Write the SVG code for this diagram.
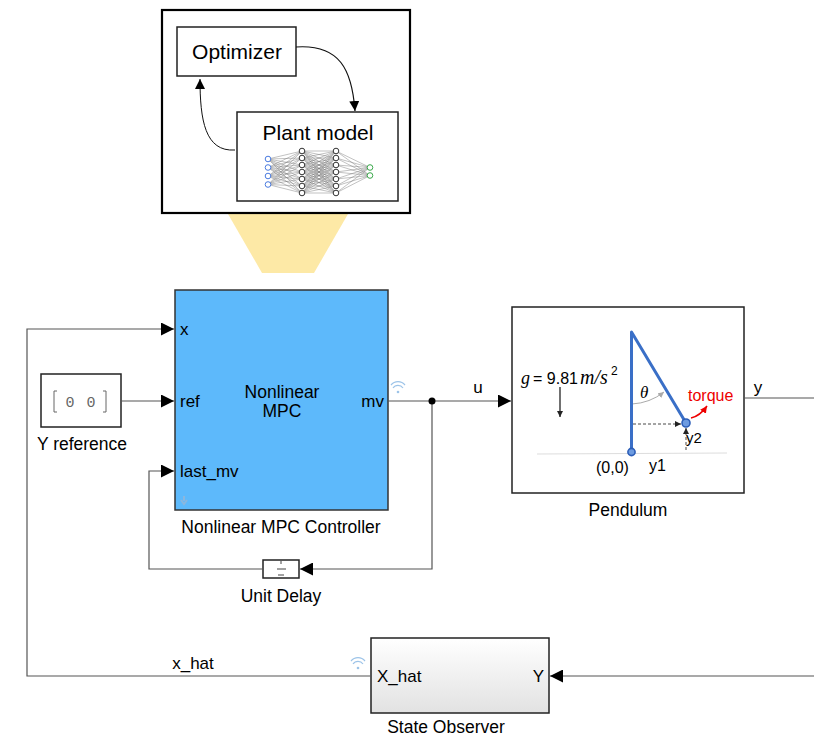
<svg xmlns="http://www.w3.org/2000/svg" width="814" height="736" viewBox="0 0 814 736">
  <defs>
    <marker id="arr" viewBox="0 0 10 10" refX="10" refY="5" markerWidth="10" markerHeight="10" markerUnits="userSpaceOnUse" orient="auto">
      <path d="M0,0 L10,5 L0,10 z" fill="#000"/>
    </marker>
    <marker id="arrBig" viewBox="0 0 12 12" refX="12" refY="6" markerWidth="13" markerHeight="13" markerUnits="userSpaceOnUse" orient="auto">
      <path d="M0,0 L12,6 L0,12 z" fill="#000"/>
    </marker>
    <marker id="arrSm" viewBox="0 0 10 10" refX="10" refY="5" markerWidth="6" markerHeight="6" markerUnits="userSpaceOnUse" orient="auto">
      <path d="M0,0 L10,5 L0,10 z" fill="#222"/>
    </marker>
    <marker id="arrGray" viewBox="0 0 10 10" refX="10" refY="5" markerWidth="6" markerHeight="6" markerUnits="userSpaceOnUse" orient="auto">
      <path d="M0,0 L10,5 L0,10 z" fill="#aaa"/>
    </marker>
    <marker id="arrRed" viewBox="0 0 10 10" refX="10" refY="5" markerWidth="7" markerHeight="7" markerUnits="userSpaceOnUse" orient="auto">
      <path d="M0,0 L10,5 L0,10 z" fill="#e00"/>
    </marker>
    <linearGradient id="obsGrad" x1="0" y1="0" x2="0" y2="1">
      <stop offset="0" stop-color="#ffffff"/>
      <stop offset="1" stop-color="#e2e2e2"/>
    </linearGradient>
  </defs>
  <style>
    text { font-family: "Liberation Sans", Arial, sans-serif; fill: #000; }
    .blk { fill: #fff; stroke: #222; stroke-width: 1.5; }
    .wire { fill: none; stroke: #555; stroke-width: 1.2; }
    .port { font-size: 17px; }
    .lbl { font-size: 17.5px; text-anchor: middle; }
    .math { font-family: "Liberation Serif", serif; font-style: italic; }
    .nn { stroke: #777; stroke-width: 0.45; }
    .wifi { fill: none; stroke: #9cc3e8; stroke-width: 1.2; }
  </style>

  <!-- Optimizer / plant model inset -->
  <polygon points="228,214 348,214 314,273 262,273" fill="#fde9a6"/>
  <g id="inset">
    <rect x="162" y="10" width="248" height="203" fill="#fff" stroke="#000" stroke-width="2.2"/>
  </g>
  <g id="optimizer">
    <rect x="177" y="27" width="119" height="49" class="blk" stroke="#111"/>
    <text x="237" y="59" font-size="21" text-anchor="middle">Optimizer</text>
  </g>
  <g id="plant-model">
    <rect x="237" y="112" width="161" height="89" class="blk" stroke="#111"/>
    <text x="318" y="140" font-size="21" text-anchor="middle">Plant model</text>
    <!-- network weights -->
    <g class="nn">
      <path d="M268,159 L302,151 M268,159 L302,158 M268,159 L302,165 M268,159 L302,172 M268,159 L302,179 M268,159 L302,186 M268,159 L302,193
               M268,167.5 L302,151 M268,167.5 L302,158 M268,167.5 L302,165 M268,167.5 L302,172 M268,167.5 L302,179 M268,167.5 L302,186 M268,167.5 L302,193
               M268,176 L302,151 M268,176 L302,158 M268,176 L302,165 M268,176 L302,172 M268,176 L302,179 M268,176 L302,186 M268,176 L302,193
               M268,184.5 L302,151 M268,184.5 L302,158 M268,184.5 L302,165 M268,184.5 L302,172 M268,184.5 L302,179 M268,184.5 L302,186 M268,184.5 L302,193"/>
      <path d="M302,151 L336,151 M302,151 L336,158 M302,151 L336,165 M302,151 L336,172 M302,151 L336,179 M302,151 L336,186 M302,151 L336,193
               M302,158 L336,151 M302,158 L336,158 M302,158 L336,165 M302,158 L336,172 M302,158 L336,179 M302,158 L336,186 M302,158 L336,193
               M302,165 L336,151 M302,165 L336,158 M302,165 L336,165 M302,165 L336,172 M302,165 L336,179 M302,165 L336,186 M302,165 L336,193
               M302,172 L336,151 M302,172 L336,158 M302,172 L336,165 M302,172 L336,172 M302,172 L336,179 M302,172 L336,186 M302,172 L336,193
               M302,179 L336,151 M302,179 L336,158 M302,179 L336,165 M302,179 L336,172 M302,179 L336,179 M302,179 L336,186 M302,179 L336,193
               M302,186 L336,151 M302,186 L336,158 M302,186 L336,165 M302,186 L336,172 M302,186 L336,179 M302,186 L336,186 M302,186 L336,193
               M302,193 L336,151 M302,193 L336,158 M302,193 L336,165 M302,193 L336,172 M302,193 L336,179 M302,193 L336,186 M302,193 L336,193"/>
      <path d="M336,151 L370,167.5 M336,158 L370,167.5 M336,165 L370,167.5 M336,172 L370,167.5 M336,179 L370,167.5 M336,186 L370,167.5 M336,193 L370,167.5
               M336,151 L370,175.5 M336,158 L370,175.5 M336,165 L370,175.5 M336,172 L370,175.5 M336,179 L370,175.5 M336,186 L370,175.5 M336,193 L370,175.5"/>
    </g>
    <g fill="#fff" stroke-width="1">
      <g stroke="#4a7be0">
        <circle cx="268" cy="159" r="2.8"/><circle cx="268" cy="167.5" r="2.8"/><circle cx="268" cy="176" r="2.8"/><circle cx="268" cy="184.5" r="2.8"/>
      </g>
      <g stroke="#333">
        <circle cx="302" cy="151" r="2.8"/><circle cx="302" cy="158" r="2.8"/><circle cx="302" cy="165" r="2.8"/><circle cx="302" cy="172" r="2.8"/><circle cx="302" cy="179" r="2.8"/><circle cx="302" cy="186" r="2.8"/><circle cx="302" cy="193" r="2.8"/>
        <circle cx="336" cy="151" r="2.8"/><circle cx="336" cy="158" r="2.8"/><circle cx="336" cy="165" r="2.8"/><circle cx="336" cy="172" r="2.8"/><circle cx="336" cy="179" r="2.8"/><circle cx="336" cy="186" r="2.8"/><circle cx="336" cy="193" r="2.8"/>
      </g>
      <g stroke="#3aa84a">
        <circle cx="370" cy="167.5" r="2.8"/><circle cx="370" cy="175.5" r="2.8"/>
      </g>
    </g>
  </g>

  <!-- Nonlinear MPC controller -->
  <g id="mpc">
    <rect x="175" y="290" width="213" height="220" fill="#5db9fb" stroke="#333" stroke-width="1.5"/>
    <text x="282" y="398" font-size="17.5" text-anchor="middle">Nonlinear</text>
    <text x="282" y="417" font-size="17.5" text-anchor="middle">MPC</text>
    <text x="180" y="335" class="port">x</text>
    <text x="180" y="407" class="port">ref</text>
    <text x="180" y="477" class="port">last_mv</text>
    <text x="384" y="407" class="port" text-anchor="end">mv</text>
    <path d="M184,496 L184,501 M181,500 L184,504 L187,500" fill="none" stroke="#8ab7de" stroke-width="2"/>
    <text x="281" y="533" class="lbl">Nonlinear MPC Controller</text>
  </g>

  <!-- Y reference constant -->
  <g id="y-reference">
    <rect x="41" y="374" width="80" height="53" class="blk"/>
    <path d="M57,391 L54,391 L54,412 L57,412 M103,391 L106,391 L106,412 L103,412" fill="none" stroke="#666" stroke-width="1"/>
    <text x="70" y="407" font-size="15" fill="#666" text-anchor="middle" style="font-family:'Liberation Mono',monospace;fill:#666">0</text>
    <text x="91" y="407" font-size="15" fill="#666" text-anchor="middle" style="font-family:'Liberation Mono',monospace;fill:#666">0</text>
    <text x="82" y="450" class="lbl">Y reference</text>
  </g>

  <!-- Unit delay -->
  <g id="unit-delay">
    <rect x="263" y="560" width="36" height="18" class="blk"/>
    <line x1="277" y1="569" x2="286" y2="569" stroke="#444" stroke-width="1"/>
    <line x1="281" y1="561" x2="281" y2="564" stroke="#444" stroke-width="1"/>
    <line x1="278" y1="575" x2="284" y2="575" stroke="#444" stroke-width="1"/>
    <text x="281" y="602" class="lbl">Unit Delay</text>
  </g>

  <!-- Pendulum -->
  <g id="pendulum">
    <rect x="512" y="307" width="232" height="186" fill="#fff" stroke="#222" stroke-width="1.5"/>
    <line x1="537" y1="454" x2="727" y2="453" stroke="#ddd" stroke-width="1.2"/>
    <text x="521" y="384" font-size="18" class="math">g</text>
    <text x="533" y="384" font-size="16">= 9.81</text>
    <text x="580" y="384" font-size="20" class="math">m/s</text>
    <text x="611" y="375" font-size="12">2</text>
    <line x1="560" y1="387" x2="560" y2="417" stroke="#111" stroke-width="1.2" marker-end="url(#arrSm)"/>
    <path d="M632,404 Q650,403 664,392" fill="none" stroke="#aaa" stroke-width="1" marker-end="url(#arrGray)"/>
    <text x="640" y="398" font-size="17" class="math">θ</text>
    <line x1="633" y1="424" x2="681" y2="424" stroke="#333" stroke-width="0.9" stroke-dasharray="3,2" marker-end="url(#arrSm)"/>
    <line x1="686" y1="450" x2="686" y2="428" stroke="#333" stroke-width="0.9" stroke-dasharray="3,2" marker-end="url(#arrSm)"/>
    <path d="M631.5,452 L631.5,332 L686,423" fill="none" stroke="#3a6fc7" stroke-width="3" stroke-linejoin="round"/>
    <circle cx="631.5" cy="452" r="3.6" fill="#6d9be0" stroke="#2c5eb8" stroke-width="1.6"/>
    <circle cx="686" cy="423" r="4" fill="#6d9be0" stroke="#2c5eb8" stroke-width="1.6"/>
    <path d="M691,418 Q700,416 707,406" fill="none" stroke="#e00" stroke-width="1.6" marker-end="url(#arrRed)"/>
    <text x="688" y="401" font-size="16" style="fill:#e00">torque</text>
    <text x="686" y="443" font-size="15">y2</text>
    <text x="596" y="473" font-size="16">(0,0)</text>
    <text x="649" y="471" font-size="16">y1</text>
    <text x="628" y="516" class="lbl">Pendulum</text>
  </g>

  <!-- State observer -->
  <g id="state-observer">
    <rect x="371" y="638" width="178" height="75" fill="url(#obsGrad)" stroke="#222" stroke-width="1.5"/>
    <text x="377" y="682" class="port">X_hat</text>
    <text x="544" y="682" class="port" text-anchor="end">Y</text>
    <text x="446" y="733" class="lbl">State Observer</text>
  </g>

  <!-- Connectors -->
  <g id="connectors">
    <path d="M296,47 C340,44 352,70 355,111" fill="none" stroke="#111" stroke-width="1.2" marker-end="url(#arr)"/>
    <path d="M235,150 C205,152 200,120 200,79" fill="none" stroke="#111" stroke-width="1" marker-end="url(#arr)"/>
    <path d="M121,401 L174,401" class="wire" marker-end="url(#arrBig)"/>
    <path d="M371,676 L27,676 L27,329 L174,329" class="wire" marker-end="url(#arrBig)"/>
    <path d="M263,569 L149,569 L149,471 L174,471" class="wire" marker-end="url(#arrBig)"/>
    <path d="M388,401 L511,401" class="wire" marker-end="url(#arrBig)"/>
    <path d="M432,401 L432,569 L300,569" class="wire" marker-end="url(#arrBig)"/>
    <circle cx="432" cy="401" r="3.5" fill="#000"/>
    <path d="M744,398 L814,398" class="wire"/>
    <path d="M814,676 L550,676" class="wire" marker-end="url(#arrBig)"/>
    <text x="478" y="393" font-size="17" text-anchor="middle">u</text>
    <text x="758" y="393" font-size="17" text-anchor="middle">y</text>
    <text x="193" y="669" font-size="17" text-anchor="middle">x_hat</text>
    <!-- signal logging badges -->
    <g class="wifi">
      <path d="M393,388 A6,6 0 0 1 403,388 M391,385 A9,9 0 0 1 405,385"/>
      <circle cx="398" cy="392" r="1.3" fill="#9cc3e8" stroke="none"/>
      <path d="M353,664 A6,6 0 0 1 363,664 M351,661 A9,9 0 0 1 365,661"/>
      <circle cx="358" cy="668" r="1.3" fill="#9cc3e8" stroke="none"/>
    </g>
  </g>
</svg>
